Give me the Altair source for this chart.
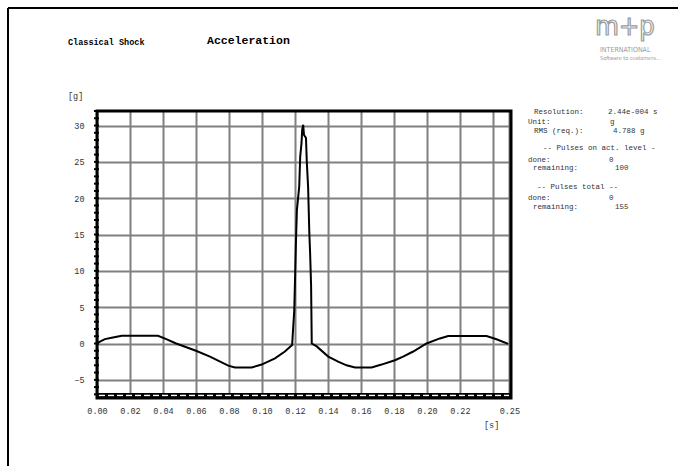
import altair as alt
import pandas as pd

# ---- data ----
time_s = [0.0, 0.0018, 0.0048, 0.0089, 0.015, 0.037, 0.042, 0.048, 0.060, 0.0685,
          0.0796, 0.0836, 0.0938, 0.0998, 0.1079, 0.1139, 0.1183, 0.1196, 0.1206,
          0.1212, 0.1226, 0.1232, 0.1240, 0.1244, 0.1250, 0.1255, 0.1267, 0.1272,
          0.1280, 0.1287, 0.1292, 0.1298, 0.1302, 0.1332, 0.1402, 0.1462, 0.1513,
          0.1564, 0.1665, 0.1725, 0.1806, 0.1856, 0.1917, 0.1998, 0.2079, 0.2129,
          0.2362, 0.2422, 0.2493]
accel_g = [0.0, 0.25, 0.6, 0.8, 1.07, 1.07, 0.6, 0.0, -1.0, -1.8,
           -3.05, -3.3, -3.3, -2.9, -2.05, -1.1, -0.2, 4.6, 13.8,
           18.4, 21.6, 25.7, 27.6, 29.4, 30.1, 28.7, 28.3, 25.0,
           21.5, 15.4, 12.5, 8.0, 0.0, -0.4, -1.8, -2.5, -3.0,
           -3.3, -3.3, -2.9, -2.3, -1.8, -1.1, 0.0, 0.7, 1.03,
           1.03, 0.58, -0.05]

x_ticks = [0.0, 0.02, 0.04, 0.06, 0.08, 0.10, 0.12, 0.14, 0.16, 0.18, 0.20, 0.22, 0.24, 0.25]
y_ticks = [-5, 0, 5, 10, 15, 20, 25, 30]
y_minor = list(range(-7, 33))

title_left = "Classical Shock"
title_main = "Acceleration"
y_unit = "[g]"
x_unit = "[s]"

info_labels = ["Resolution:", "Unit:", "RMS (req.):", "-- Pulses on act. level -",
               "done:", "remaining:", "-- Pulses total --", "done:", "remaining:"]
info_values = ["2.44e-004 s", "g", "4.788 g", "", "0", "100", "", "0", "155"]
info_lx = [437, 431, 437, 446, 431, 436, 440, 431, 436]
info_vx = [511, 513, 516, 0, 512, 518, 0, 512, 518]
info_y = [1.3, 11.3, 19.7, 37.3, 49, 57.3, 76.3, 87.3, 96.3]

W, H = 414, 287
FONT = "Liberation Mono"

df = pd.DataFrame({"t": time_s, "a": accel_g})
xs = alt.Scale(domain=[0, 0.251], nice=False, zero=False)
ys = alt.Scale(domain=[-7.5, 32], nice=False, zero=False)

x_axis = alt.Axis(values=x_ticks, grid=True, gridColor="#808080", gridWidth=2,
                  ticks=False, domain=False, title=None, labelFont=FONT, labelFontSize=8.5,
                  labelColor="#333333", labelPadding=8, labelFlush=False, labelOverlap=False,
                  labelExpr="datum.value == 0.24 ? '' : format(datum.value, '.2f')")
y_axis = alt.Axis(values=y_ticks, grid=True, gridColor="#808080", gridWidth=2,
                  ticks=False, domain=False, title=None, labelFont=FONT, labelFontSize=8.5,
                  labelColor="#333333", labelPadding=13, labelFlush=False, labelOverlap=False)

line = alt.Chart(df).mark_line(color="black", strokeWidth=2, clip=True).encode(
    x=alt.X("t:Q", scale=xs, axis=x_axis),
    y=alt.Y("a:Q", scale=ys, axis=y_axis),
)

minor = alt.Chart(pd.DataFrame({"m": y_minor})).mark_rule(color="black", strokeWidth=2).encode(
    y=alt.Y("m:Q", scale=ys, axis=y_axis),
    x=alt.value(-3), x2=alt.value(2),
)

border = alt.Chart(pd.DataFrame({"k": [0]})).mark_rect(
    fill=None, stroke="black", strokeWidth=3).encode(
    x=alt.value(0), x2=alt.value(W), y=alt.value(0), y2=alt.value(H))

band = alt.Chart(pd.DataFrame({"k": [0]})).mark_rect(color="black").encode(
    x=alt.value(0), x2=alt.value(W), y=alt.value(H - 5), y2=alt.value(H))
band_dash = alt.Chart(pd.DataFrame({"k": [0]})).mark_rule(
    color="white", strokeWidth=1.5, strokeDash=[6, 3]).encode(
    x=alt.value(2), x2=alt.value(W - 2), y=alt.value(H - 2.5))

frame_top = alt.Chart(pd.DataFrame({"k": [0]})).mark_rule(color="black", strokeWidth=2).encode(
    x=alt.value(-89), x2=alt.value(581), y=alt.value(-103))
frame_left = alt.Chart(pd.DataFrame({"k": [0]})).mark_rule(color="black", strokeWidth=2).encode(
    x=alt.value(-89), y=alt.value(-103), y2=alt.value(360))


def txt(s, x, y, size, bold=False, color="black", align="left", font=FONT, **kw):
    return alt.Chart(pd.DataFrame({"s": [s]})).mark_text(
        font=font, fontSize=size, fontWeight="bold" if bold else "normal",
        color=color, align=align, baseline="middle", **kw).encode(
        text="s:N", x=alt.value(x), y=alt.value(y))


texts = [
    txt(title_left, -29, -69, 8.5, bold=True),
    txt(title_main, 110, -70, 11.5, bold=True),
    txt(y_unit, -29, -15, 8.5, color="#333333"),
    txt(x_unit, 387, 314, 8.5, color="#333333"),
]
for lab, lx, val, vx, yy in zip(info_labels, info_lx, info_values, info_vx, info_y):
    texts.append(txt(lab, lx, yy, 7.5, color="#333333"))
    if val:
        texts.append(txt(val, vx, yy, 7.5, color="#333333"))

logo = [
    alt.Chart(pd.DataFrame({"s": ["m+p"]})).mark_text(
        font="DejaVu Sans Condensed", fontSize=27, fill="white", stroke="#9a9a9a",
        strokeWidth=1.2, align="center", baseline="middle").encode(
        text="s:N", x=alt.value(528), y=alt.value(-84)),
    txt("INTERNATIONAL", 503, -61, 7, color="#9a9a9a", font="DejaVu Sans Condensed"),
    txt("Software to customers...", 503, -53, 5.5, color="#9a9a9a", font="DejaVu Sans Condensed"),
]

chart = alt.layer(
    line, minor, band, band_dash, border, frame_top, frame_left, *texts, *logo
).properties(
    width=W, height=H,
    autosize=alt.AutoSizeParams(type="none"),
    padding={"left": 97, "top": 111, "right": 167, "bottom": 68},
).configure_view(stroke=None).configure(background="white")

chart.save("out.html", embed_options={"renderer": "svg", "actions": False})
